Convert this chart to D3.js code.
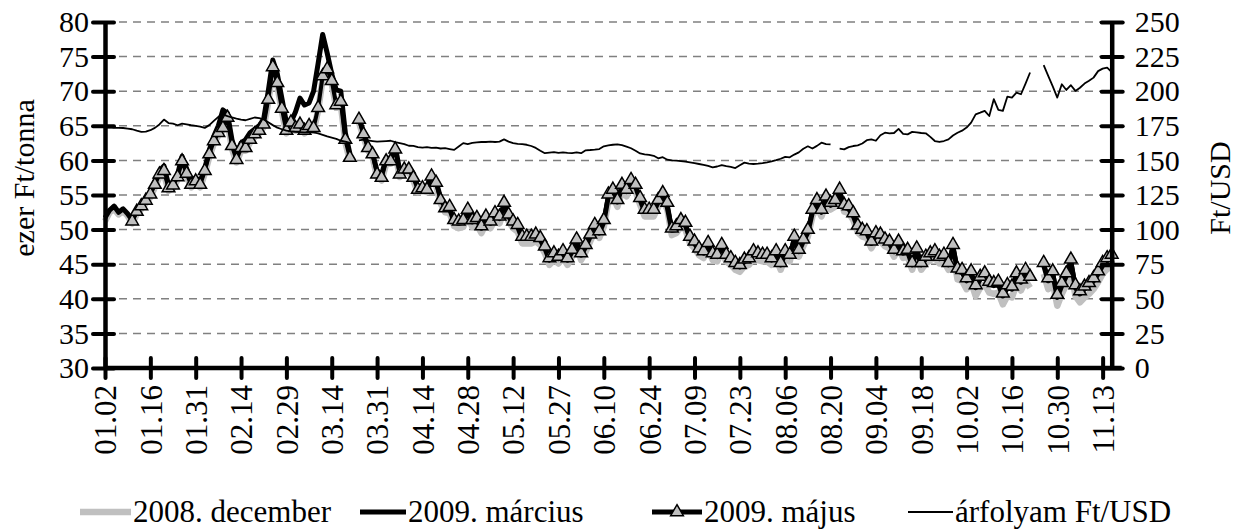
<!DOCTYPE html>
<html>
<head>
<meta charset="utf-8">
<script src="https://cdn.jsdelivr.net/npm/d3@7"></script>
<style>
  body { margin: 0; background: #fff; }
  text { font-family: "Liberation Serif", "Times New Roman", serif; fill: #000; }
</style>
</head>
<body>
<svg id="chart" width="1243" height="529"></svg>
<script>
// tick labels on the date axis, one every 10 trading days
const tickLabels = ['01.02', '01.16', '01.31', '02.14', '02.29', '03.14', '03.31', '04.14', '04.28', '05.12',
  '05.27', '06.10', '06.24', '07.09', '07.23', '08.06', '08.20', '09.04', '09.18', '10.02', '10.16', '10.30', '11.13'];
const leftTicks = [30, 35, 40, 45, 50, 55, 60, 65, 70, 75, 80];
const rightTicks = [0, 25, 50, 75, 100, 125, 150, 175, 200, 225, 250];

// ezer Ft/tonna, one value per trading day (null = no quote)
const dec2008 = [
  51.2, 52.5, 53.0, 52.2, 52.7, 52.0, 50.9, 52.2, 53.0, 53.8, 54.7, 56.1, 57.6, 58.1, 55.6, 56.0, 57.2, 59.5, 57.7, 56.1,
  56.6, 56.1, 58.1, 60.5, 62.4, 63.6, 64.3, 65.8, 61.7, 59.7, 61.4, 61.4, 62.6, 63.4, 63.9, 64.8, 68.4, 73.1, 70.8, 67.1,
  63.9, 65.1, 64.3, 64.8, 63.9, 64.6, 64.3, 67.2, 71.8, 72.8, 71.1, 67.6, 68.1, 62.6, 60.0, null, 65.5, 63.4, 61.4, 60.5,
  57.6, 57.1, 59.5, 59.5, 61.2, 57.6, 58.3, 58.3, 57.1, 55.4, 55.6, 55.4, 57.3, 56.4, 53.8, 52.5, 52.4, 50.5, 50.2, 50.4,
  51.9, 50.4, 50.7, 49.5, 50.9, 50.2, 51.4, 50.9, 52.9, 51.2, 50.2, 49.7, 48.0, 48.0, 48.0, 48.3, 47.8, 46.6, 44.9, 45.6,
  45.1, 45.9, 44.9, 46.1, 47.6, 45.6, 46.8, 48.3, 49.7, 48.8, 50.4, 54.1, 54.8, 53.3, 55.5, 54.8, 56.2, 55.5, 53.6, 51.9,
  51.9, 51.9, 53.3, 54.3, 52.9, 49.2, 49.5, 50.4, 50.0, 48.0, 47.3, 46.3, 45.9, 47.1, 45.6, 45.4, 46.8, 45.4, 44.9, 44.2,
  43.9, 44.7, 44.9, 45.9, 45.6, 45.4, 45.4, 44.9, 45.9, 44.2, 45.9, 45.4, 48.0, 46.1, 47.6, 49.0, 51.9, 53.3, 51.9, 53.8,
  52.9, 53.3, 54.8, 52.6, 52.4, 51.4, 49.6, 49.0, 48.8, 47.3, 48.5, 48.3, 47.6, 47.3, 46.1, 47.3, 45.9, 46.1, 44.2, 46.3,
  44.2, 45.1, 45.6, 45.9, 45.1, 45.4, 44.2, 46.8, 42.8, 42.6, 41.4, 42.4, 40.4, 41.6, 42.1, 40.9, 40.7, 40.9, 39.2, 40.4,
  40.2, 42.1, 41.2, 42.6, 41.6, null, null, 43.6, 41.4, 42.4, 39.0, 40.7, 42.1, 44.1, 40.4, 39.5, 40.2, 40.7, 41.4, 42.4,
  43.6, 44.3, 44.8
];
const mar2009 = [
  51.7, 52.8, 53.4, 52.5, 53.0, 52.3, 51.4, 52.8, 53.6, 54.5, 55.4, 57.0, 58.5, 59.2, 56.5, 56.8, 58.0, 60.6, 58.8, 57.0,
  57.5, 57.0, 58.8, 61.5, 63.5, 65.0, 67.3, 66.8, 63.0, 60.8, 62.5, 63.0, 64.0, 64.5, 65.0, 66.0, 70.0, 74.5, 72.5, 69.0,
  65.5, 65.5, 67.0, 69.0, 68.0, 68.3, 70.0, 74.0, 78.2, 75.5, 72.5, 70.2, 70.0, 64.0, 61.0, null, 66.3, 64.0, 62.0, 61.0,
  58.5, 58.0, 60.3, 60.3, 62.0, 58.5, 59.0, 59.0, 57.8, 56.2, 56.3, 56.2, 58.0, 57.0, 54.6, 53.4, 53.0, 51.1, 50.9, 51.1,
  52.6, 51.1, 51.4, 50.2, 51.6, 50.9, 52.1, 51.6, 53.5, 51.9, 50.9, 50.4, 48.7, 48.7, 48.7, 49.0, 48.5, 47.3, 45.6, 46.3,
  45.8, 46.6, 45.6, 46.8, 48.3, 46.3, 47.5, 49.0, 50.4, 49.5, 51.1, 54.8, 55.5, 54.0, 56.2, 55.5, 56.9, 56.2, 54.3, 52.6,
  52.6, 52.6, 54.0, 55.0, 53.2, 49.9, 50.0, 50.9, 50.6, 48.7, 48.0, 47.0, 46.6, 47.8, 46.3, 46.1, 47.5, 46.1, 45.6, 44.9,
  44.6, 45.4, 45.6, 46.6, 46.3, 46.1, 46.1, 45.6, 46.6, 44.9, 46.6, 46.1, 48.6, 46.8, 48.3, 49.6, 52.5, 53.9, 52.5, 54.4,
  53.5, 53.9, 55.4, 53.2, 53.0, 52.0, 50.3, 49.7, 49.5, 48.0, 49.2, 49.0, 48.3, 48.0, 46.8, 48.0, 46.6, 46.8, 44.9, 47.0,
  44.9, 45.8, 46.3, 46.6, 45.8, 46.1, 44.9, 47.5, 44.0, 43.8, 42.6, 43.6, 41.6, 42.8, 43.3, 42.1, 41.9, 42.1, 40.4, 41.6,
  41.4, 43.3, 42.4, 43.8, 42.8, null, null, 44.8, 42.6, 43.6, 40.2, 41.9, 43.3, 45.3, 41.6, 40.7, 41.4, 41.9, 42.6, 43.6,
  44.8, 45.5, 46.0
];
const maj2009 = [
  null, null, null, null, null, null, 51.2, 52.6, 53.4, 54.2, 55.1, 56.5, 58.0, 58.5, 56.0, 56.4, 57.6, 59.9, 58.1, 56.5,
  57.0, 56.5, 58.5, 60.9, 62.8, 64.0, 64.7, 66.2, 62.1, 60.1, 61.8, 61.8, 63.0, 63.8, 64.3, 65.2, 68.8, 73.5, 71.2, 67.5,
  64.3, 65.5, 64.7, 65.2, 64.3, 65.0, 64.7, 67.6, 72.2, 73.2, 71.5, 68.0, 68.5, 63.0, 60.4, null, 65.9, 63.8, 61.8, 60.9,
  58.0, 57.5, 59.9, 59.9, 61.6, 58.0, 58.7, 58.7, 57.5, 55.8, 56.0, 55.8, 57.7, 56.8, 54.3, 53.1, 53.3, 51.4, 51.2, 51.4,
  52.9, 51.4, 51.7, 50.5, 51.9, 51.2, 52.4, 51.9, 53.9, 52.2, 51.2, 50.7, 49.0, 49.0, 49.0, 49.3, 48.8, 47.6, 45.9, 46.6,
  46.1, 46.9, 45.9, 47.1, 48.6, 46.6, 47.8, 49.3, 50.7, 49.8, 51.4, 55.1, 55.8, 54.3, 56.5, 55.8, 57.2, 56.5, 54.6, 52.9,
  52.9, 52.9, 54.3, 55.3, 53.9, 50.2, 50.5, 51.4, 51.0, 49.0, 48.3, 47.3, 46.9, 48.1, 46.6, 46.4, 47.8, 46.4, 45.9, 45.2,
  44.9, 45.7, 45.9, 46.9, 46.6, 46.4, 46.4, 45.9, 46.9, 45.2, 46.9, 46.4, 49.0, 47.1, 48.6, 50.0, 52.9, 54.3, 52.9, 54.8,
  53.9, 54.3, 55.8, 53.6, 53.4, 52.4, 50.6, 50.0, 49.8, 48.3, 49.5, 49.3, 48.6, 48.3, 47.1, 48.3, 46.9, 47.1, 45.2, 47.3,
  45.2, 46.1, 46.6, 46.9, 46.1, 46.4, 45.2, 47.8, 44.4, 44.2, 43.0, 44.0, 42.0, 43.2, 43.7, 42.5, 42.3, 42.5, 40.8, 42.0,
  41.8, 43.7, 42.8, 44.2, 43.2, null, null, 45.2, 43.0, 44.0, 40.6, 42.3, 43.7, 45.7, 42.0, 41.1, 41.8, 42.3, 43.0, 44.0,
  45.2, 45.9, 46.4
];
// Ft/USD, right axis
const arfolyam = [
  173.7, 173.8, 173.6, 173.5, 173.4, 173.0, 172.5, 171.5, 170.6, 170.8, 171.8, 173.5, 176.0, 179.5, 177.0, 176.6, 175.4, 176.6, 176.0, 175.4,
  175.0, 174.4, 173.5, 175.5, 178.5, 181.5, 183.3, 182.0, 181.0, 180.2, 179.5, 179.0, 180.0, 181.0, 180.5, 179.6, 177.5, 175.5, 173.7, 172.5,
  171.5, 171.0, 170.6, 170.4, 170.2, 170.5, 170.2, 169.6, 168.5, 167.3, 166.5, 165.6, 164.2, 163.6, 162.6, null, 164.4, 165.0, 164.5, 164.0,
  163.5, 163.8, 164.0, 164.2, 163.2, 162.5, 161.8, 160.6, 160.5, 159.6, 159.3, 159.6, 159.0, 159.2, 158.6, 158.8, 158.2, 157.6, 160.0, 162.5,
  161.8, 162.6, 163.0, 163.3, 163.3, 163.5, 163.3, 163.6, 165.2, 163.6, 162.5, 162.0, 161.8, 161.3, 160.4, 159.0, 157.0, 155.2, 155.6, 156.0,
  155.5, 155.8, 155.5, 155.3, 155.8, 155.2, 157.3, 157.5, 157.8, 158.2, 160.2, 160.8, 161.3, 161.6, 161.0, 160.0, 158.8, 157.0, 155.0, 154.3,
  154.0, 153.3, 151.5, 152.3, 150.5, 150.0, 149.8, 149.5, 149.1, 148.6, 148.0, 147.4, 146.8, 146.0, 145.0, 145.6, 146.6, 145.8, 145.3, 144.5,
  146.5, 148.4, 147.6, 147.4, 147.6, 148.0, 148.6, 149.3, 150.2, 151.2, 152.6, 152.2, 154.2, 155.8, 158.4, 160.2, 158.6, 160.5, 162.8, 161.8,
  161.6, null, 158.5, 158.0, 159.6, 160.4, 160.9, 162.2, 164.6, 165.2, 164.2, 168.2, 170.0, 169.6, 169.8, 172.8, 169.2, 168.8, 170.6, 170.3,
  169.8, 169.6, 167.0, 164.0, 163.3, 164.0, 165.2, 168.0, 170.0, 171.5, 173.7, 177.3, 183.3, 184.5, 185.8, 182.1, 194.2, 186.5, 185.8, 196.1,
  195.4, 199.0, 197.8, 205.5, 213.5, null, null, 218.8, 211.1, 203.5, 195.4, 205.0, 200.9, 204.3, 200.2, 202.5, 205.5, 207.5, 209.8, 214.5,
  216.3, 217.1, 213.8
];

const legendItems = ['2008. december', '2009. március', '2009. május', 'árfolyam Ft/USD'];

const plotLeft = 105, plotRight = 1111.7, plotTop = 22, plotBottom = 368;
const svg = d3.select('#chart');

const x = d3.scaleLinear().domain([0, dec2008.length - 1]).range([plotLeft, plotRight]);
const yL = d3.scaleLinear().domain([30, 80]).range([plotBottom, plotTop]);
const yR = d3.scaleLinear().domain([0, 250]).range([plotBottom, plotTop]);

// dashed gridlines
svg.append('g')
  .selectAll('line')
  .data(leftTicks.slice(1))
  .enter()
  .append('line')
  .attr('x1', plotLeft)
  .attr('x2', plotRight)
  .attr('y1', d => yL(d))
  .attr('y2', d => yL(d))
  .attr('stroke', '#808080')
  .attr('stroke-width', 1.5)
  .attr('stroke-dasharray', '8,6');

const lineL = d3.line()
  .defined(d => d != null)
  .x((d, i) => x(i))
  .y(d => yL(d));

const lineR = d3.line()
  .defined(d => d != null)
  .x((d, i) => x(i))
  .y(d => yR(d));

svg.append('path')
  .attr('d', lineL(dec2008))
  .attr('fill', 'none')
  .attr('stroke', '#c0c0c0')
  .attr('stroke-width', 6.5)
  .attr('stroke-linejoin', 'round');

svg.append('path')
  .attr('d', lineL(mar2009))
  .attr('fill', 'none')
  .attr('stroke', '#000')
  .attr('stroke-width', 5)
  .attr('stroke-linejoin', 'round');

svg.append('path')
  .attr('d', lineL(maj2009))
  .attr('fill', 'none')
  .attr('stroke', '#000')
  .attr('stroke-width', 4)
  .attr('stroke-linejoin', 'round');

const tri = d3.symbol().type(d3.symbolTriangle).size(70);

svg.append('g')
  .selectAll('path')
  .data(maj2009.map((v, i) => ({ v, i })).filter(d => d.v != null))
  .enter()
  .append('path')
  .attr('d', tri)
  .attr('transform', d => `translate(${x(d.i)},${yL(d.v)})`)
  .attr('fill', '#c0c0c0')
  .attr('stroke', '#000')
  .attr('stroke-width', 1.5);

svg.append('path')
  .attr('d', lineR(arfolyam))
  .attr('fill', 'none')
  .attr('stroke', '#000')
  .attr('stroke-width', 1.8)
  .attr('stroke-linejoin', 'round');

// axes
const axisStyle = g => {
  g.select('.domain').attr('stroke', '#000').attr('stroke-width', 4.5);
  g.selectAll('.tick line').attr('stroke', '#000').attr('stroke-width', 4).attr('stroke-linecap', 'round');
  g.selectAll('.tick text').attr('font-size', 30).attr('font-family', '"Liberation Serif", serif');
};

svg.append('g')
  .attr('transform', `translate(${plotLeft},0)`)
  .call(d3.axisLeft(yL).tickValues(leftTicks).tickSize(12).tickSizeOuter(0).tickPadding(4))
  .call(axisStyle)
  .call(g => g.selectAll('.tick line').attr('x2', -12).attr('x1', 9));

svg.append('g')
  .attr('transform', `translate(${plotRight},0)`)
  .call(d3.axisRight(yR).tickValues(rightTicks).tickSize(11).tickSizeOuter(0).tickPadding(12))
  .call(axisStyle)
  .call(g => g.selectAll('.tick line').attr('x1', -10).attr('x2', 11));

const xAxis = svg.append('g')
  .attr('transform', `translate(0,${plotBottom})`)
  .call(d3.axisBottom(x)
    .tickValues(tickLabels.map((d, i) => i * 10))
    .tickFormat((d, i) => tickLabels[i])
    .tickSize(10)
    .tickSizeOuter(0))
  .call(axisStyle)
  .call(g => g.selectAll('.tick line').attr('y1', -10).attr('y2', 10));

xAxis.select('.domain').attr('d', `M${plotLeft},0H${plotRight + 10}`);

xAxis.selectAll('.tick text')
  .attr('transform', 'translate(0,17) rotate(-90)')
  .attr('x', 0)
  .attr('y', 0)
  .attr('dy', '0.35em')
  .attr('text-anchor', 'end')
  .attr('font-size', 31);

// axis titles
svg.append('text')
  .attr('transform', 'translate(34,178) rotate(-90)')
  .attr('text-anchor', 'middle')
  .attr('font-size', 30)
  .text('ezer Ft/tonna');

svg.append('text')
  .attr('transform', 'translate(1230,188) rotate(-90)')
  .attr('text-anchor', 'middle')
  .attr('font-size', 30)
  .text('Ft/USD');

// legend
const legendY = 512;
const legend = svg.append('g');
const legendPos = [
  { x1: 80, x2: 131, tx: 133 },
  { x1: 360, x2: 406, tx: 408 },
  { x1: 652, x2: 702, tx: 704 },
  { x1: 908, x2: 953, tx: 955 }
];

legend.append('line').attr('x1', legendPos[0].x1).attr('x2', legendPos[0].x2)
  .attr('y1', legendY).attr('y2', legendY).attr('stroke', '#c0c0c0').attr('stroke-width', 6.5);
legend.append('line').attr('x1', legendPos[1].x1).attr('x2', legendPos[1].x2)
  .attr('y1', legendY).attr('y2', legendY).attr('stroke', '#000').attr('stroke-width', 5);
legend.append('line').attr('x1', legendPos[2].x1).attr('x2', legendPos[2].x2)
  .attr('y1', legendY).attr('y2', legendY).attr('stroke', '#000').attr('stroke-width', 5);
legend.append('path').attr('d', tri)
  .attr('transform', `translate(${(legendPos[2].x1 + legendPos[2].x2) / 2},${legendY})`)
  .attr('fill', '#c0c0c0').attr('stroke', '#000').attr('stroke-width', 1.5);
legend.append('line').attr('x1', legendPos[3].x1).attr('x2', legendPos[3].x2)
  .attr('y1', legendY).attr('y2', legendY).attr('stroke', '#000').attr('stroke-width', 1.8);

legend.selectAll('text')
  .data(legendItems)
  .enter()
  .append('text')
  .attr('x', (d, i) => legendPos[i].tx)
  .attr('y', legendY + 10)
  .attr('font-size', 31)
  .text(d => d);
</script>
</body>
</html>
